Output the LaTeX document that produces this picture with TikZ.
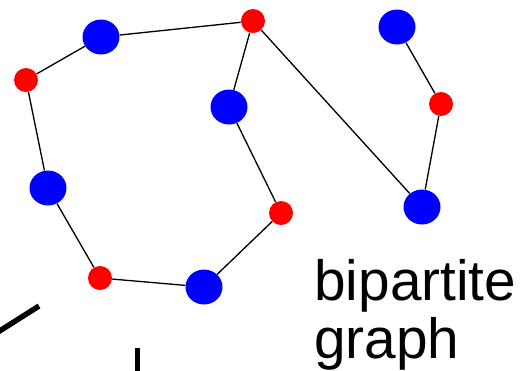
\documentclass[tikz,border=0pt]{standalone}
\usepackage{fontspec}
\setmainfont{Liberation Sans}
\usetikzlibrary{shapes.geometric}
\definecolor{partA}{RGB}{0, 0, 255}
\definecolor{partB}{RGB}{255, 0, 0}
\tikzset{
    bvert/.style={
        ellipse,
        fill=partA,
        inner sep=0pt,
        minimum width=0.74cm,
        minimum height=0.70cm
    },
    rvert/.style={
        circle,
        fill=partB,
        inner sep=0pt,
        minimum size=0.48cm
    },
    stub/.style={
        line width=3.1pt
    }
}

\begin{document}
\begin{tikzpicture}[
        x=0.02cm, y=-0.02cm,
        link/.style={line width=0.75pt}
    ]
        \useasboundingbox (0,0) rectangle (520,370);
        % one part of the bipartition in blue, the other in red
        \node[bvert] (b1) at (101,37) {};
        \node[bvert] (b2) at (229,107) {};
        \node[bvert] (b3) at (48,188) {};
        \node[bvert] (b4) at (204,287) {};
        \node[bvert] (b5) at (397,27) {};
        \node[bvert] (b6) at (422,207) {};
        \node[rvert] (r1) at (253,21) {};
        \node[rvert] (r2) at (26,80) {};
        \node[rvert] (r3) at (281,213) {};
        \node[rvert] (r4) at (100,278) {};
        \node[rvert] (r5) at (441,104) {};

        \path[link]
            (r2) edge (b1)
            (b1) edge (r1)
            (r1) edge (b2)
            (r1) edge (b6)
            (b2) edge (r3)
            (r3) edge (b4)
            (b4) edge (r4)
            (r4) edge (b3)
            (b3) edge (r2)
            (b5) edge (r5)
            (r5) edge (b6);

        % bits of a larger figure cut off at the bottom edge
        \draw[stub] (-2,332) -- (39,306);
        \draw[stub] (137.5,348) -- (137.5,372);

        % base anchor sits on the last line here
        \node[anchor=base west, inner sep=0pt, align=left,
              font=\fontsize{32.3}{33}\selectfont] (title) at (314,358)
            {bipartite\\graph};
    \end{tikzpicture}
\end{document}
